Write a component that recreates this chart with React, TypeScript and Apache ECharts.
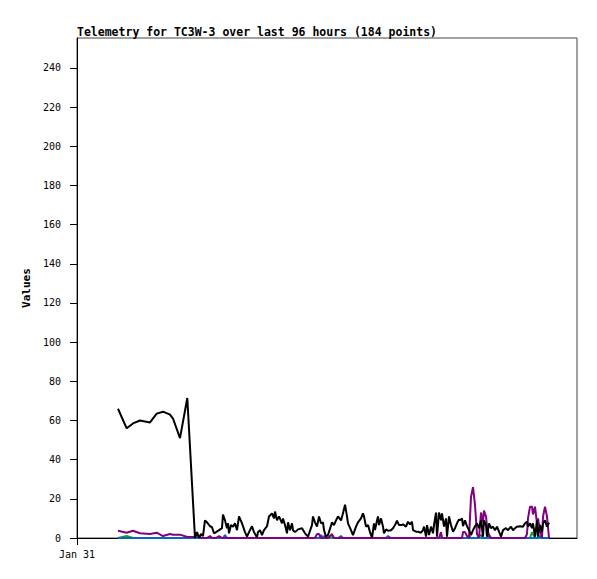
import React, { useEffect, useRef } from "react";
import * as echarts from "echarts";

const TITLE = "Telemetry for TC3W-3 over last 96 hours (184 points)";
const Y_NAME = "Values";
const xTickHours = [0];
const xTickLabels = ["Jan 31"];
const yTicks = [0, 20, 40, 60, 80, 100, 120, 140, 160, 180, 200, 220, 240];
const X_MAX = 111.11;
const Y_MAX = 255.3;

// hours since Jan 31 00:00
const times = [
  9.11, 11.04, 12.44, 14.0, 16.22, 17.71, 19.11, 20.67, 21.33, 22.89,
  24.51, 26.22, 26.67, 27.11, 27.56, 28.0, 28.44, 28.89, 29.56, 30.0,
  30.44, 30.89, 31.56, 32.22, 32.44, 32.89, 33.33, 33.56, 33.78, 34.22,
  34.67, 35.11, 35.56, 36.0, 36.67, 36.89, 37.33, 37.78, 38.22, 38.89,
  39.33, 40.0, 40.22, 40.67, 41.11, 41.56, 42.22, 42.67, 43.33, 43.78,
  44.0, 44.44, 44.89, 45.56, 45.78, 46.22, 46.67, 46.89, 47.33, 47.78,
  48.0, 48.44, 49.11, 50.0, 50.67, 51.33, 52.22, 52.44, 52.89, 53.33,
  53.78, 54.22, 54.67, 54.89, 55.33, 55.78, 56.67, 57.11, 57.56, 58.0,
  58.67, 59.11, 59.56, 60.0, 60.22, 60.89, 61.33, 62.0, 62.44, 63.11,
  63.56, 63.78, 64.22, 64.67, 65.11, 65.56, 66.0, 66.22, 66.67, 66.89,
  67.11, 67.56, 68.0, 68.22, 68.67, 69.11, 69.78, 70.22, 70.67, 71.11,
  71.56, 72.22, 72.44, 73.11, 73.56, 74.0, 74.44, 74.67, 75.33, 75.78,
  76.44, 76.89, 77.11, 77.56, 77.78, 78.22, 78.67, 79.11, 79.33, 79.78,
  80.0, 80.44, 80.89, 81.11, 81.56, 82.0, 82.22, 82.67, 83.11, 83.56,
  84.0, 84.44, 84.89, 85.11, 85.56, 85.78, 86.22, 86.67, 87.11, 87.56,
  88.0, 88.44, 88.89, 89.33, 89.78, 90.22, 90.44, 90.89, 91.11, 91.56,
  92.0, 92.44, 92.89, 93.33, 93.78, 94.22, 94.67, 95.33, 95.78, 96.44,
  96.89, 97.33, 97.78, 98.44, 99.11, 99.56, 100.0, 100.22, 100.67, 101.11,
  101.33, 101.78, 102.22, 102.44, 102.89, 103.33, 103.56, 104.0, 104.44, 104.89,
];

const blackValues = [
  66, 56, 58.5, 60, 59, 63.5, 64.5, 63, 61, 51,
  71.5, 0, 3, 0, 2, 1, 9, 8, 6, 5.5,
  2.4, 3, 4, 5, 12, 9, 5, 7.5, 2.4, 6.6,
  5.8, 7.5, 4, 11, 7.5, 6, 3, 0.7, 3, 6,
  3, 0.3, 3, 4, 1.5, 4, 6, 11, 12.6, 10,
  13.5, 9, 11, 7.5, 10, 6.6, 2.4, 8, 4, 7.5,
  4, 3, 4.4, 5, 2.4, 0.7, 6.6, 11, 8, 5.8,
  11, 7.5, 8, 4, 0.7, 1.5, 8, 6.6, 9, 11,
  9, 12.6, 17, 11, 7.5, 4, 1.5, 5.8, 8, 10,
  12.6, 11, 5.8, 6.6, 3, 0, 7.5, 4, 9, 11,
  6.6, 10, 5.8, 2.4, 4.4, 3.7, 4, 5, 6.6, 8.8,
  6.6, 6.6, 7, 5.8, 8.3, 7, 8.3, 4, 3.2, 3.2,
  2.7, 4, 5.8, 0.7, 6.6, 1.5, 5.8, 2.4, 6.6, 13,
  0.7, 13, 9, 12.6, 5.8, 10, 0.7, 11, 6.6, 3.2,
  5, 7.5, 9.5, 9, 10, 6, 9, 6, 4, 1.5,
  4, 6, 7.5, 5, 9, 0.7, 9, 6.6, 0.7, 7.5,
  5, 5.8, 4, 5.8, 3.2, 0.7, 4, 5, 4, 5.8,
  4, 5, 5.8, 6, 5.8, 7.5, 8.3, 5.8, 7.5, 5,
  7.5, 0.7, 9, 0.7, 6.6, 3.2, 7.5, 9, 5.8, 7.8,
];

const purpleValues = [
  3.7, 2.7, 3.7, 2.4, 2, 2.7, 1, 2, 1.7, 1.7,
  0.5, 0.7, 1.8, 1, 0, 0, 0, 0, 1, 0,
  0, 0, 1, 0, 0, 0, 0, 0, 0, 0,
  0, 0, 0, 0, 0, 0, 0, 0, 0, 0,
  0, 0, 0, 0, 0, 0, 0, 0, 0, 0,
  0, 0, 0, 0, 0, 0, 0, 0, 0, 0,
  0, 0, 0, 0, 0, 0, 0, 0, 0, 2,
  2, 0, 0, 0, 0, 0, 2, 0, 0, 0,
  0, 0, 0, 0, 0, 0, 0, 0, 0, 0,
  0, 0, 0, 0, 0, 0, 0, 0, 0, 0,
  0, 0, 0, 0, 0, 0, 0, 0, 0, 0,
  0, 0, 0, 0, 0, 0, 0, 0, 0, 0,
  0, 0, 0, 0, 0, 0, 0, 0, 0, 0,
  0, 0, 3, 0, 0, 0, 0, 0, 0, 0,
  0, 0, 0, 0, 0, 3, 3, 1, 0, 21,
  26, 17, 2, 0, 13, 8, 14, 11, 6, 1,
  0, 0, 0, 0, 0, 0, 0, 0, 0, 0,
  0, 0, 0, 0, 0, 0, 2, 10, 16, 16,
  12, 16, 7.5, 10, 4, 0, 11, 16, 11, 0,
];

const greenValues = [
  0, 1, 0, 0, 0, 0, 0, 0, 0, 0,
  0, 0, 0, 0, 0, 0, 0, 0, 0, 0,
  0, 0, 0, 0, 0, 0, 0, 0, 0, 0,
  0, 0, 0, 0, 0, 0, 0, 0, 0, 0,
  0, 0, 0, 0, 0, 0, 0, 0, 0, 0,
  0, 0, 0, 0, 0, 0, 0, 0, 0, 0,
  0, 0, 0, 0, 0, 0, 0, 0, 0, 0,
  0, 0, 0, 0, 0, 0, 0, 0, 0, 0,
  0, 0, 0, 0, 0, 0, 0, 0, 0, 0,
  0, 0, 0, 0, 0, 0, 0, 0, 0, 0,
  0, 0, 0, 0, 0, 0, 0, 0, 0, 0,
  0, 0, 0, 0, 0, 0, 0, 0, 0, 0,
  0, 0, 0, 0, 0, 0, 0, 0, 0, 0,
  0, 0, 0, 0, 0, 0, 0, 0, 0, 0,
  0, 0, 0, 0, 0, 0, 0, 0, 1, 0,
  0, 0, 0, 0, 0, 0, 0, 0, 0, 2,
  0, 0, 0, 0, 0, 0, 0, 0, 0, 0,
  0, 0, 0, 0, 0, 0, 0, 0, 0, 3,
  2, 0, 0, 0, 0, 0, 0, 0, 0, 0,
];

const blueValues = [
  0, 0, 0, 0, 0, 0, 0, 0, 0, 0,
  0, 0, 0, 1, 0, 0, 0, 0, 0, 0,
  0, 0, 0, 0, 0, 1.5, 0, 0, 0, 0,
  0, 0, 0, 0, 0, 0, 0, 0, 0, 0,
  0, 0, 0, 0, 0, 0, 0, 0, 0, 0,
  0, 0, 0, 0, 0, 0, 0, 0, 0, 0,
  0, 0, 0, 0, 0, 0, 0, 0, 0, 0,
  0, 1.5, 0, 1, 0, 0, 1.5, 0, 0, 0,
  1, 0, 0, 0, 0, 0, 0, 0, 0, 0,
  0, 0, 0, 0, 0, 0, 0, 0, 0, 0,
  0, 0, 0, 0, 0, 1, 0, 0, 0, 0,
  0, 0, 0, 0, 0, 0, 0, 0, 0, 0,
  0, 0, 0, 0, 0, 0, 0, 0, 0, 0,
  0, 0, 0, 0, 0, 0, 0, 0, 0, 0,
  0, 0, 0, 0, 0, 0, 0, 0, 0, 0,
  0, 0, 0, 1, 1.5, 0, 0, 0, 0, 0,
  0, 0, 0, 0, 0, 0, 0, 0, 0, 0,
  0, 0, 0, 0, 0, 0, 0, 0, 0, 0,
  0, 0, 0, 0, 1, 0, 0, 0, 0, 0,
];

const seriesDefs = [
  { name: "green", color: "#1ea01e", values: greenValues },
  { name: "blue", color: "#0a64c8", values: blueValues },
  { name: "purple", color: "#800080", values: purpleValues },
  { name: "black", color: "#000000", values: blackValues },
];

const MONO = "'DejaVu Sans Mono', 'Liberation Mono', monospace";

export default function App() {
  const ref = useRef<HTMLDivElement>(null);
  useEffect(() => {
    const chart = echarts.init(ref.current!, null, { renderer: "svg" });
    chart.setOption({
      animation: false,
      backgroundColor: "#ffffff",
      title: {
        text: TITLE,
        left: 69,
        top: 18,
        padding: 0,
        textStyle: {
          fontFamily: MONO,
          fontSize: 11.5,
          fontWeight: "bold",
          color: "#000",
          lineHeight: 12,
        },
      },
      grid: {
        left: 69,
        top: 30,
        width: 500,
        height: 500,
        show: true,
        borderColor: "#444",
        borderWidth: 1,
        backgroundColor: "transparent",
      },
      xAxis: {
        type: "value",
        min: 0,
        max: X_MAX,
        splitLine: { show: false },
        axisLine: { show: true, lineStyle: { color: "#000", width: 1 } },
        axisTick: {
          show: true,
          length: 7,
          customValues: xTickHours,
          lineStyle: { color: "#000" },
        },
        axisLabel: {
          customValues: xTickHours,
          margin: 11,
          fontFamily: MONO,
          fontSize: 10,
          color: "#000",
          formatter: (v: number) => {
            const i = xTickHours.indexOf(v);
            return i >= 0 ? xTickLabels[i] : "";
          },
        },
      },
      yAxis: {
        type: "value",
        min: 0,
        max: Y_MAX,
        name: Y_NAME,
        nameLocation: "middle",
        nameGap: 45,
        nameTextStyle: {
          fontFamily: MONO,
          fontSize: 11,
          fontWeight: "bold",
          color: "#000",
        },
        splitLine: { show: false },
        axisLine: { show: true, lineStyle: { color: "#000", width: 1 } },
        axisTick: {
          show: true,
          length: 7,
          customValues: yTicks,
          lineStyle: { color: "#000" },
        },
        axisLabel: {
          customValues: yTicks,
          margin: 16,
          fontFamily: MONO,
          fontSize: 10,
          color: "#000",
        },
      },
      series: seriesDefs.map((s) => ({
        name: s.name,
        type: "line",
        showSymbol: false,
        symbol: "none",
        data: times.map((t, i) => [t, s.values[i]]),
        lineStyle: { color: s.color, width: 2 },
        itemStyle: { color: s.color },
      })),
    });
    return () => chart.dispose();
  }, []);
  return <div ref={ref} style={{ width: 581, height: 563 }} />;
}
